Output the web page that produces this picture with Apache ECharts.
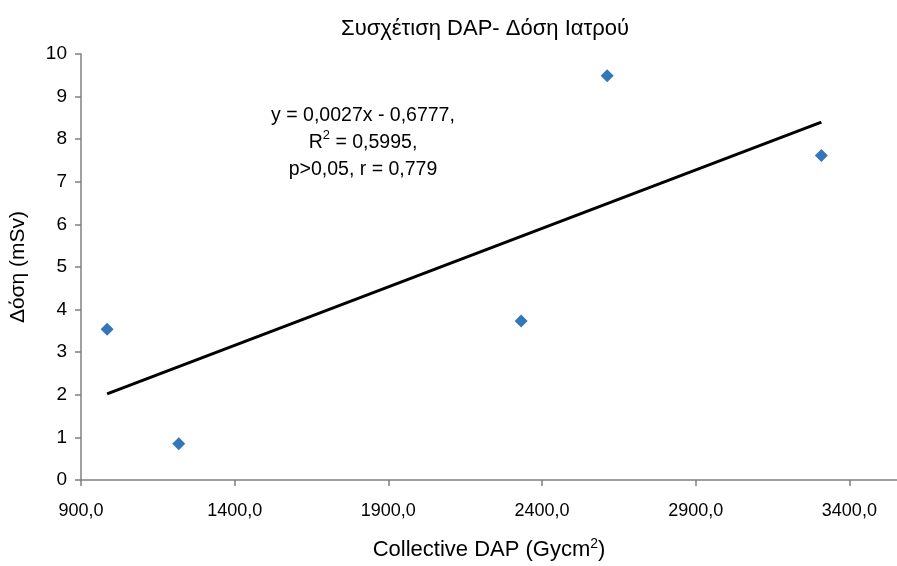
<!DOCTYPE html>
<html>
<head>
<meta charset="utf-8">
<script src="https://cdn.jsdelivr.net/npm/echarts@6/dist/echarts.min.js"></script>
<style>html,body{margin:0;padding:0;background:#fff}#c{width:897px;height:566px}</style>
</head>
<body>
<div id="c"></div>
<script>
const dapValues = [985, 1218, 2332, 2612, 3309];
const doseValues = [3.54, 0.85, 3.73, 9.49, 7.62];
const trendX = [985, 3309];
const trendY = [2.02, 8.40];
const xTicks = [900, 1400, 1900, 2400, 2900, 3400];
const yTicks = [0, 1, 2, 3, 4, 5, 6, 7, 8, 9, 10];
const titleText = 'Συσχέτιση DAP- Δόση Ιατρού';
const eqLines = ['y = 0,0027x - 0,6777,', 'R{sup|2} = 0,5995,', 'p>0,05, r = 0,779'];

const font = '"Liberation Sans", Arial, sans-serif';
const chart = echarts.init(document.getElementById('c'), null, {renderer: 'canvas'});
const fmt = v => v.toFixed(1).replace('.', ',');
chart.setOption({
  animation: false,
  backgroundColor: '#fff',
  title: {
    text: titleText, left: 480, top: 13, textAlign: 'center',
    textStyle: {fontFamily: font, fontSize: 22, fontWeight: 'normal', color: '#000'}
  },
  grid: {left: 78, right: 0, top: 54, bottom: 80, containLabel: false},
  xAxis: {
    type: 'value', min: 900, max: 3555, interval: 500,
    name: 'Collective DAP (Gycm{sup|2})', nameLocation: 'middle', nameGap: 57,
    nameTextStyle: {fontFamily: font, fontSize: 22, color: '#000',
      rich: {sup: {fontFamily: font, fontSize: 14, verticalAlign: 'top', padding: [0, 0, 12, 0], color: '#000'}}},
    axisLine: {lineStyle: {color: '#808080', width: 1.5}},
    axisTick: {show: true, length: 6, inside: false, customValues: xTicks, lineStyle: {color: '#808080', width: 1.5}},
    axisLabel: {customValues: xTicks, formatter: fmt, fontFamily: font, fontSize: 18, color: '#000', margin: 22},
    splitLine: {show: false}
  },
  yAxis: {
    type: 'value', min: 0, max: 10, interval: 1,
    name: 'Δόση (mSv)', nameLocation: 'middle', nameGap: 52, nameRotate: 90,
    nameTextStyle: {fontFamily: font, fontSize: 21, color: '#000'},
    axisLine: {show: true, lineStyle: {color: '#808080', width: 1.5}},
    axisTick: {show: true, length: 6, inside: false, lineStyle: {color: '#808080', width: 1.5}},
    axisLabel: {customValues: yTicks, fontFamily: font, fontSize: 19, color: '#000', margin: 14},
    splitLine: {show: false}
  },
  graphic: [{
    type: 'text', x: 363, y: 102,
    style: {
      text: eqLines.join('\n'), align: 'center', verticalAlign: 'top',
      fontFamily: font, fontSize: 19.5, lineHeight: 27, fill: '#000',
      rich: {sup: {fontFamily: font, fontSize: 13, verticalAlign: 'top', padding: [0, 0, 10, 0], lineHeight: 27}}
    }
  }],
  series: [
    {
      type: 'line', data: trendX.map((x, i) => [x, trendY[i]]),
      symbol: 'none', lineStyle: {color: '#000', width: 3}, z: 2, silent: true
    },
    {
      type: 'scatter', data: dapValues.map((x, i) => [x, doseValues[i]]),
      symbol: 'diamond', symbolSize: 13, itemStyle: {color: '#0055A6'}, z: 3
    }
  ]
});
</script>
</body>
</html>
